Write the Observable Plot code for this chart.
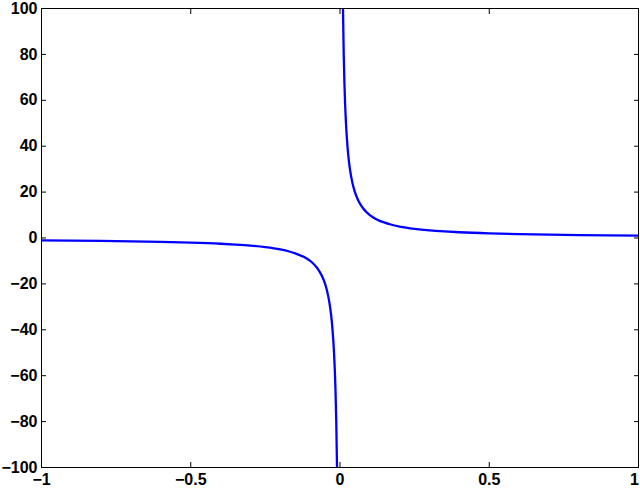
<!DOCTYPE html>
<html>
<head>
<meta charset="utf-8">
<script src="https://cdn.jsdelivr.net/npm/d3@7"></script>
<script src="https://cdn.jsdelivr.net/npm/@observablehq/plot@0.6"></script>
<style>
  html, body { margin: 0; padding: 0; background: #fff; }
  svg { display: block; }
</style>
</head>
<body>
<div id="chart"></div>
<script>
// Negative branch (x < 0)
const xNeg = [-1, -0.9, -0.8, -0.7, -0.6, -0.5, -0.4, -0.35, -0.3, -0.25, -0.2, -0.17, -0.15, -0.12, -0.1, -0.09, -0.08, -0.07, -0.06, -0.05, -0.045, -0.04, -0.035, -0.03, -0.025, -0.02, -0.0175, -0.015, -0.0125, -0.01, -0.009];
const yNeg = [-1, -1.11, -1.25, -1.43, -1.67, -2, -2.5, -2.86, -3.33, -4, -5, -5.88, -6.67, -8.33, -10, -11.1, -12.5, -14.3, -16.7, -20, -22.2, -25, -28.6, -33.3, -40, -50, -57.1, -66.7, -80, -100, -111];
// Positive branch (x > 0)
const xPos = [0.009, 0.01, 0.0125, 0.015, 0.0175, 0.02, 0.025, 0.03, 0.035, 0.04, 0.045, 0.05, 0.06, 0.07, 0.08, 0.09, 0.1, 0.12, 0.15, 0.17, 0.2, 0.25, 0.3, 0.35, 0.4, 0.5, 0.6, 0.7, 0.8, 0.9, 1];
const yPos = [111, 100, 80, 66.7, 57.1, 50, 40, 33.3, 28.6, 25, 22.2, 20, 16.7, 14.3, 12.5, 11.1, 10, 8.33, 6.67, 5.88, 5, 4, 3.33, 2.86, 2.5, 2, 1.67, 1.43, 1.25, 1.11, 1];

const xTicks = [-1, -0.5, 0, 0.5, 1];
const yTicks = [-100, -80, -60, -40, -20, 0, 20, 40, 60, 80, 100];

const neg = xNeg.map((x, i) => ({x, y: yNeg[i], branch: "neg"}));
const pos = xPos.map((x, i) => ({x, y: yPos[i], branch: "pos"}));
const data = neg.concat(pos);

const fmt = d => String(d).replace("-", "\u2212");
const xMax = xTicks[xTicks.length - 1];

const chart = Plot.plot({
  width: 640,
  height: 488,
  marginLeft: 41,
  marginRight: 2,
  marginTop: 8,
  marginBottom: 21,
  style: {fontFamily: "'Liberation Sans', Arial, sans-serif", fontSize: "16px", fontWeight: "bold", color: "black", background: "white"},
  x: {domain: [-1, 1]},
  y: {domain: [-100, 100]},
  marks: [
    // inward ticks on all four sides
    Plot.axisX(xTicks, {anchor: "bottom", tickSize: -5, tickFormat: () => "", label: null, stroke: "black"}),
    Plot.axisX(xTicks, {anchor: "top", tickSize: -5, tickFormat: () => "", label: null, stroke: "black"}),
    Plot.axisY(yTicks, {anchor: "left", tickSize: -5, tickFormat: () => "", label: null, stroke: "black"}),
    Plot.axisY(yTicks, {anchor: "right", tickSize: -5, tickFormat: () => "", label: null, stroke: "black"}),
    // labels
    Plot.axisX(xTicks.filter(d => d !== xMax), {anchor: "bottom", tickSize: 0, tickPadding: 6, tickFormat: fmt, label: null, fill: "black"}),
    Plot.axisX([xMax], {anchor: "bottom", tickSize: 0, tickPadding: 6, tickFormat: fmt, label: null, fill: "black", dx: -4}),
    Plot.axisY(yTicks, {anchor: "left", tickSize: 0, tickPadding: 4, tickFormat: fmt, label: null, fill: "black"}),
    Plot.line(data, {x: "x", y: "y", z: "branch", stroke: "#0000ff", strokeWidth: 2.3, curve: "monotone-x", clip: true}),
    Plot.frame({stroke: "black"})
  ]
});
document.getElementById("chart").appendChild(chart);
</script>
</body>
</html>
